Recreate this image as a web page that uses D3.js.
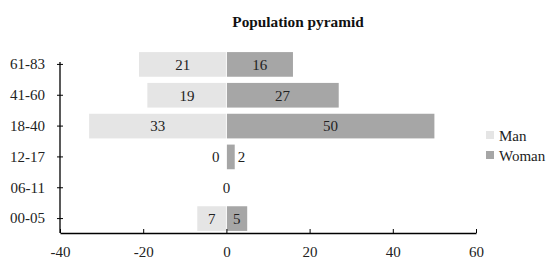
<!DOCTYPE html>
<html><head><meta charset="utf-8">
<script src="https://cdn.jsdelivr.net/npm/d3@7"></script>
<style>body{margin:0;background:#fff}svg{display:block}</style>
</head><body>
<svg id="c" width="554" height="269" font-family="Liberation Serif"></svg>
<script>
const categories = ["61-83","41-60","18-40","12-17","06-11","00-05"];
const manValues = [21,19,33,0,0,7];
const womanValues = [16,27,50,2,0,5];
const xTicks = [-40,-20,0,20,40,60];
const seriesNames = ["Man","Woman"];
const colors = {Man:"#e5e5e5", Woman:"#a6a6a6"};
const FONT = "Liberation Serif";

const svg = d3.select("#c");
const x = d3.scaleLinear().domain([-40,60]).range([60,476]);
const y = d3.scaleBand().domain(categories).range([49,234]).paddingInner(0.2).paddingOuter(0.1);
const axisY = 233;

svg.append("text").attr("x",298).attr("y",27).attr("text-anchor","middle")
  .attr("font-family",FONT).attr("font-size",15.3).attr("font-weight","bold").attr("fill","#111").text("Population pyramid");

const rows = categories.map((c,i)=>({c, m:manValues[i], w:womanValues[i]}));

// bars
svg.append("g").selectAll("rect").data(rows).join("rect")
  .attr("x",d=>x(-d.m)).attr("width",d=>Math.max(0,x(0)-x(-d.m)-0.5))
  .attr("y",d=>y(d.c)).attr("height",y.bandwidth()).attr("fill",colors.Man);
svg.append("g").selectAll("rect").data(rows).join("rect")
  .attr("x",x(0)+0.5).attr("width",d=>Math.max(0,x(d.w)-x(0)-0.5))
  .attr("y",d=>y(d.c)).attr("height",y.bandwidth()).attr("fill",colors.Woman);

// labels
const lab = svg.append("g").attr("font-size",15).attr("fill","#222").attr("font-family",FONT);
rows.forEach(d=>{
  const cy = y(d.c)+y.bandwidth()/2;
  if(d.m===0 && d.w===0){
    lab.append("text").attr("x",x(0)).attr("y",cy).attr("dy","0.35em").attr("text-anchor","middle").text("0");
    return;
  }
  const mw = x(0)-x(-d.m), ww = x(d.w)-x(0);
  if(mw>14) lab.append("text").attr("x",(x(-d.m)+x(0))/2).attr("y",cy).attr("dy","0.35em").attr("text-anchor","middle").text(d.m);
  else lab.append("text").attr("x",x(-d.m)-7).attr("y",cy).attr("dy","0.35em").attr("text-anchor","end").text(d.m);
  if(ww>14) lab.append("text").attr("x",(x(d.w)+x(0))/2).attr("y",cy).attr("dy","0.35em").attr("text-anchor","middle").text(d.w);
  else lab.append("text").attr("x",x(d.w)+3).attr("y",cy).attr("dy","0.35em").attr("text-anchor","start").text(d.w);
});

// x axis
const gx = svg.append("g").attr("transform",`translate(0,${axisY})`);
gx.call(d3.axisBottom(x).tickValues(xTicks).tickSize(-4).tickSizeOuter(0).tickPadding(10).tickFormat(d=>String(d)));
gx.attr("font-family",FONT);
gx.select(".domain").attr("stroke","#000").attr("stroke-width",1.3);
gx.selectAll(".tick line").attr("stroke","#000");
gx.selectAll(".tick text").attr("font-size",15).attr("fill","#222").attr("font-family",FONT).attr("dy","0.9em");

// y axis
const gy = svg.append("g").attr("transform","translate(60,0)");
gy.call(d3.axisLeft(y).tickSizeOuter(0).tickSize(3).tickPadding(12));
gy.attr("font-family",FONT);
gy.select(".domain").attr("d",`M0,62V${axisY}`).attr("stroke","#000").attr("stroke-width",1.3);
gy.selectAll(".tick line").attr("x1",-3).attr("x2",3).attr("stroke","#000");
gy.selectAll(".tick text").attr("font-size",15).attr("fill","#222").attr("font-family",FONT);

// legend
const lg = svg.append("g").attr("transform","translate(486,131)").attr("font-family",FONT);
seriesNames.forEach((s,i)=>{
  lg.append("rect").attr("x",0).attr("y",i*20).attr("width",8).attr("height",8).attr("fill",colors[s]);
  lg.append("text").attr("x",13).attr("y",i*20+9.5).attr("font-size",15).attr("fill","#222").attr("font-family",FONT).text(s);
});
</script>
</body></html>
